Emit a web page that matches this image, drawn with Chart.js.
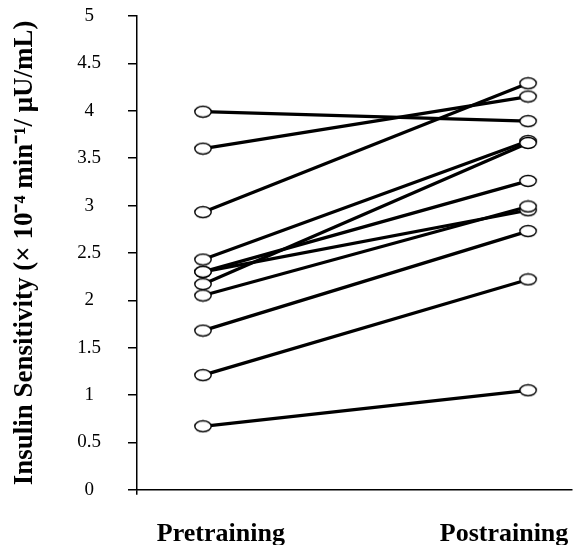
<!DOCTYPE html>
<html>
<head>
<meta charset="utf-8">
<script src="https://cdn.jsdelivr.net/npm/chart.js@4.4.1/dist/chart.umd.min.js"></script>
<style>
  body { margin: 0; overflow: hidden; background: #fff; }
</style>
</head>
<body>
<canvas id="myChart" width="574" height="574"></canvas>
<script>
// insulin sensitivity per subject, before and after training
const preValues  = [3.99, 3.60, 2.93, 2.43, 2.30, 2.30, 2.17, 2.05, 1.68, 1.21, 0.67]
const postValues = [3.89, 4.15, 4.29, 3.68, 3.26, 2.95, 3.66, 2.99, 2.73, 2.22, 1.05]
const conditions = ["Pretraining", "Postraining"]
const yTitle = "Insulin Sensitivity (× 10⁻⁴ min⁻¹/ μU/mL)"
const yMin = 0
const yMax = 5
const yStep = 0.5

// open ellipse marker
const ellipse = document.createElement("canvas")
ellipse.width = 20
ellipse.height = 14
const ec = ellipse.getContext("2d")
ec.beginPath()
ec.ellipse(10, 7, 8.2, 5.5, 0, 0, Math.PI * 2)
ec.fillStyle = "#fff"
ec.fill()
ec.lineWidth = 1.4
ec.strokeStyle = "#000"
ec.stroke()

const serif = "'Liberation Serif', 'Times New Roman', serif"

// scales add room for their edge labels, the reference doesn't
const noEdgePadding = s => {
  s.paddingTop = 0
  s.paddingBottom = 0
  s.paddingLeft = 0
  s.paddingRight = 0
}

const lines = preValues.map((pre, i) => ({
  data: [{ x: 1, y: pre }, { x: 2, y: postValues[i] }],
  showLine: true,
  borderColor: "#000",
  borderWidth: 3.2,
  pointRadius: 0,
  order: 1
}))

const markers = {
  data: preValues.map(v => ({ x: 1, y: v })).concat(postValues.map(v => ({ x: 2, y: v }))),
  showLine: false,
  pointStyle: ellipse,
  pointRadius: 8,
  order: 0
}

const myChartRef = document.getElementById("myChart").getContext("2d")
new Chart(myChartRef, {
  type: "scatter",
  data: { datasets: lines.concat([markers]) },
  options: {
    responsive: false,
    animation: false,
    layout: { autoPadding: false, padding: { top: 16, left: 6, right: 2, bottom: 0 } },
    plugins: { legend: { display: false }, tooltip: { enabled: false } },
    scales: {
      x: {
        type: "linear",
        min: 0.797,
        max: 2.135,
        border: { color: "#000", width: 1.5 },
        grid: {
          drawOnChartArea: false,
          tickLength: 5,
          lineWidth: 1.5,
          color: c => (c.index === 0 ? "#000" : "rgba(0,0,0,0)")
        },
        afterBuildTicks: s => { s.ticks = [{ value: 0.797 }, { value: 1.055 }, { value: 1.926 }] },
        afterFit: noEdgePadding,
        ticks: {
          autoSkip: false,
          maxRotation: 0,
          padding: 24,
          color: "#000",
          font: { family: serif, size: 26, weight: "bold" },
          callback: (v, i) => ["", ...conditions][i]
        }
      },
      y: {
        min: yMin,
        max: yMax,
        border: { color: "#000", width: 1.5 },
        grid: { drawOnChartArea: false, tickLength: 9, lineWidth: 1.5, color: "#000" },
        ticks: {
          stepSize: yStep,
          padding: 27,
          crossAlign: "center",
          color: "#000",
          font: { family: serif, size: 19 },
          callback: v => String(v)
        },
        title: {
          display: true,
          text: yTitle,
          color: "#000",
          font: { family: serif, size: 27, weight: "bold" },
          padding: { top: 3, bottom: 0 }
        },
        afterFit: s => {
          noEdgePadding(s)
          s.width = 131
        }
      }
    }
  }
})
</script>
</body>
</html>
